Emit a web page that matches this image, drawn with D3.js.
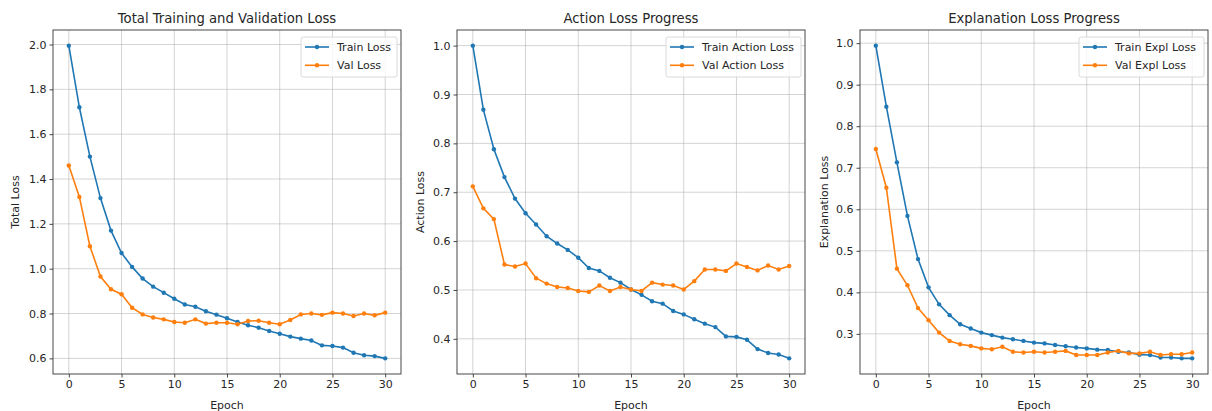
<!DOCTYPE html>
<html>
<head>
<meta charset="utf-8">
<script src="https://cdn.jsdelivr.net/npm/d3@7"></script>
<style>
  body { margin: 0; background: #fff; }
  svg text { font-family: "DejaVu Sans", sans-serif; fill: #262626; }
</style>
</head>
<body>
<div id="plot"></div>
<script>
// epochs 0..30
const epochs = [0,1,2,3,4,5,6,7,8,9,10,11,12,13,14,15,16,17,18,19,20,21,22,23,24,25,26,27,28,29,30];

const trainLoss = [1.995,1.72,1.50,1.315,1.17,1.07,1.008,0.956,0.92,0.893,0.866,0.84,0.83,0.81,0.795,0.779,0.762,0.748,0.737,0.722,0.71,0.697,0.688,0.68,0.658,0.655,0.648,0.625,0.614,0.61,0.60];
const valLoss = [1.46,1.32,1.10,0.965,0.908,0.886,0.826,0.796,0.782,0.774,0.762,0.759,0.774,0.755,0.759,0.759,0.752,0.767,0.768,0.759,0.752,0.771,0.796,0.80,0.794,0.804,0.80,0.789,0.80,0.792,0.804];

const trainAction = [1.0,0.869,0.788,0.731,0.687,0.657,0.634,0.61,0.595,0.582,0.566,0.545,0.539,0.525,0.515,0.501,0.49,0.477,0.472,0.457,0.45,0.44,0.431,0.424,0.405,0.404,0.398,0.379,0.371,0.368,0.36];
const valAction = [0.712,0.667,0.645,0.552,0.548,0.554,0.524,0.513,0.506,0.504,0.498,0.496,0.509,0.498,0.506,0.501,0.498,0.515,0.511,0.509,0.501,0.518,0.542,0.542,0.539,0.554,0.547,0.54,0.55,0.542,0.549];

const trainExpl = [0.994,0.847,0.713,0.584,0.48,0.412,0.371,0.345,0.323,0.313,0.303,0.297,0.291,0.287,0.283,0.279,0.277,0.273,0.27,0.267,0.265,0.262,0.261,0.257,0.255,0.25,0.249,0.243,0.243,0.241,0.241];
const valExpl = [0.745,0.652,0.457,0.417,0.362,0.333,0.303,0.283,0.275,0.271,0.265,0.263,0.269,0.257,0.255,0.257,0.255,0.257,0.259,0.249,0.249,0.249,0.255,0.259,0.253,0.253,0.257,0.249,0.251,0.251,0.255];

const xTicks = [0,5,10,15,20,25,30];

const panels = [
  { title: "Total Training and Validation Loss", ylabel: "Total Loss", train: trainLoss, val: valLoss,
    names: ["Train Loss", "Val Loss"], yTicks: [0.6,0.8,1.0,1.2,1.4,1.6,1.8,2.0], left: 53, labelX: 15, legendW: 96 },
  { title: "Action Loss Progress", ylabel: "Action Loss", train: trainAction, val: valAction,
    names: ["Train Action Loss", "Val Action Loss"], yTicks: [0.4,0.5,0.6,0.7,0.8,0.9,1.0], left: 457, labelX: 420, legendW: 135 },
  { title: "Explanation Loss Progress", ylabel: "Explanation Loss", train: trainExpl, val: valExpl,
    names: ["Train Expl Loss", "Val Expl Loss"], yTicks: [0.3,0.4,0.5,0.6,0.7,0.8,0.9,1.0], left: 860, labelX: 824, legendW: 125 }
];

const width = 1212, height = 411;
const plotW = 348, plotTop = 30, plotBottom = 374;
const colors = ["#1f77b4", "#ff7f0e"];
const fs = "11px";

const svg = d3.select("#plot").append("svg")
  .attr("width", width)
  .attr("height", height);

panels.forEach(function(p) {
  const all = p.train.concat(p.val);
  const lo = d3.min(all), hi = d3.max(all), pad = (hi - lo) * 0.05;

  const x = d3.scaleLinear().domain([-1.5, 31.5]).range([p.left, p.left + plotW]);
  const y = d3.scaleLinear().domain([lo - pad, hi + pad]).range([plotBottom, plotTop]);

  const g = svg.append("g");

  // grid
  g.append("g").selectAll("line").data(xTicks).enter().append("line")
    .attr("x1", d => x(d)).attr("x2", d => x(d))
    .attr("y1", plotTop).attr("y2", plotBottom)
    .attr("stroke", "#b0b0b0").attr("stroke-opacity", 0.55).attr("stroke-width", 1);
  g.append("g").selectAll("line").data(p.yTicks).enter().append("line")
    .attr("x1", p.left).attr("x2", p.left + plotW)
    .attr("y1", d => y(d)).attr("y2", d => y(d))
    .attr("stroke", "#b0b0b0").attr("stroke-opacity", 0.55).attr("stroke-width", 1);

  // axes
  const xAxis = g.append("g")
    .attr("transform", "translate(0," + plotBottom + ")")
    .call(d3.axisBottom(x).tickValues(xTicks).tickSize(3.5).tickPadding(3).tickFormat(d3.format("d")));
  const yAxis = g.append("g")
    .attr("transform", "translate(" + p.left + ",0)")
    .call(d3.axisLeft(y).tickValues(p.yTicks).tickSize(3.5).tickPadding(3).tickFormat(d3.format(".1f")));
  [xAxis, yAxis].forEach(a => {
    a.select(".domain").remove();
    a.selectAll(".tick line").attr("stroke", "#333").attr("stroke-width", 0.9);
    a.selectAll(".tick text").style("font-size", fs).attr("fill", "#262626");
  });

  // frame
  g.append("rect")
    .attr("x", p.left).attr("y", plotTop)
    .attr("width", plotW).attr("height", plotBottom - plotTop)
    .attr("fill", "none").attr("stroke", "#333").attr("stroke-width", 0.9);

  // lines
  const line = d3.line().x((d, i) => x(epochs[i])).y(d => y(d));
  [p.train, p.val].forEach(function(series, k) {
    g.append("path").datum(series)
      .attr("d", line)
      .attr("fill", "none")
      .attr("stroke", colors[k])
      .attr("stroke-width", 1.6);
    g.append("g").selectAll("circle").data(series).enter().append("circle")
      .attr("cx", (d, i) => x(epochs[i]))
      .attr("cy", d => y(d))
      .attr("r", 2.2)
      .attr("fill", colors[k]);
  });

  // title and labels
  g.append("text")
    .attr("x", p.left + plotW / 2).attr("y", 23)
    .attr("text-anchor", "middle")
    .style("font-size", "13.2px")
    .text(p.title);

  g.append("text")
    .attr("x", p.left + plotW / 2).attr("y", 409)
    .attr("text-anchor", "middle")
    .style("font-size", fs)
    .text("Epoch");

  g.append("text")
    .attr("transform", "translate(" + p.labelX + "," + ((plotTop + plotBottom) / 2) + ") rotate(-90)")
    .attr("text-anchor", "middle")
    .attr("dy", "0.35em")
    .style("font-size", fs)
    .text(p.ylabel);

  // legend
  const lx = p.left + plotW - 4 - p.legendW, ly = plotTop + 7;
  const leg = g.append("g");
  leg.append("rect")
    .attr("x", lx).attr("y", ly)
    .attr("width", p.legendW).attr("height", 40)
    .attr("rx", 2)
    .attr("fill", "#fff").attr("fill-opacity", 0.8)
    .attr("stroke", "#d6d6d6").attr("stroke-width", 0.9);
  p.names.forEach(function(name, k) {
    const yy = ly + 10 + k * 18.3;
    leg.append("line")
      .attr("x1", lx + 4).attr("x2", lx + 28)
      .attr("y1", yy).attr("y2", yy)
      .attr("stroke", colors[k]).attr("stroke-width", 1.6);
    leg.append("circle")
      .attr("cx", lx + 16).attr("cy", yy).attr("r", 2.2)
      .attr("fill", colors[k]);
    leg.append("text")
      .attr("x", lx + 36).attr("y", yy)
      .attr("dy", "0.35em")
      .style("font-size", fs)
      .text(name);
  });
});
</script>
</body>
</html>
